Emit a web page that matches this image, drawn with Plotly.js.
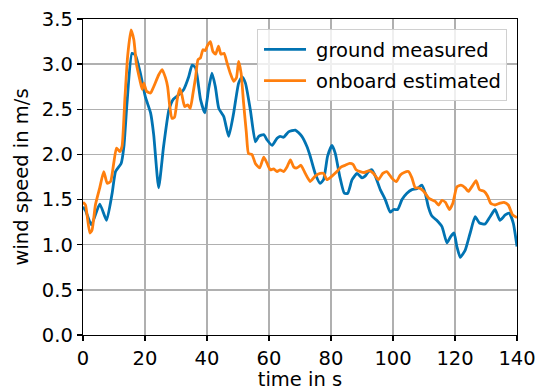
<!DOCTYPE html>
<html>
<head>
<meta charset="utf-8">
<script src="https://cdn.plot.ly/plotly-3.0.1.min.js"></script>
<style>html,body{margin:0;padding:0;background:#fff;}#chart{width:538px;height:391px;}</style>
</head>
<body>
<div id="chart"></div>
<script>
const groundTime = [0, 0.8, 2.7, 5.4, 7.6, 9.4, 10.5, 12.3, 13.2, 14.2, 15.8, 16.9, 18.5, 20.1, 21.8, 22.8, 24.4, 26.0, 27.7, 29.1, 30.9, 32.5, 34.1, 35.2, 36.3, 37.9, 39.3, 40.5, 41.6, 42.7, 43.8, 45.4, 47.0, 48.6, 50.2, 51.3, 52.4, 54.0, 55.6, 56.7, 58.3, 59.4, 61.0, 62.6, 63.6, 64.7, 66.3, 68.5, 70.6, 72.2, 73.3, 74.9, 76.5, 77.6, 78.9, 80.3, 81.4, 82.8, 84.3, 85.4, 86.8, 88.4, 90.0, 91.0, 92.1, 93.2, 94.3, 95.9, 97.5, 99.1, 100.2, 101.5, 102.9, 104.5, 106.1, 107.7, 109.3, 110.4, 111.4, 112.5, 114.1, 115.8, 117.4, 118.6, 119.7, 120.6, 121.7, 123.3, 124.9, 126.5, 127.9, 129.7, 131.3, 132.9, 134.5, 136.2, 137.5, 138.8, 140];
const groundSpeed = [1.42, 1.38, 1.22, 1.45, 1.27, 1.57, 1.81, 1.90, 2.09, 2.57, 3.12, 3.10, 2.90, 2.64, 2.46, 2.22, 1.63, 2.09, 2.49, 2.61, 2.66, 2.72, 2.86, 2.99, 2.96, 2.61, 2.46, 2.72, 2.90, 2.75, 2.51, 2.42, 2.20, 2.46, 2.79, 2.86, 2.79, 2.49, 2.14, 2.20, 2.22, 2.16, 2.10, 2.18, 2.20, 2.19, 2.25, 2.27, 2.20, 2.09, 1.98, 1.79, 1.68, 1.72, 1.98, 2.10, 2.01, 1.76, 1.57, 1.57, 1.72, 1.79, 1.74, 1.76, 1.81, 1.83, 1.76, 1.61, 1.50, 1.36, 1.39, 1.39, 1.50, 1.57, 1.61, 1.62, 1.66, 1.57, 1.42, 1.32, 1.27, 1.20, 1.02, 1.09, 1.13, 0.98, 0.86, 0.94, 1.13, 1.31, 1.24, 1.23, 1.31, 1.39, 1.27, 1.33, 1.35, 1.24, 0.98];

const onboardTime = [0, 0.8, 2.2, 2.9, 4.0, 5.4, 6.7, 7.8, 8.9, 9.9, 10.8, 11.9, 12.6, 13.5, 14.4, 15.5, 16.4, 17.2, 18.3, 19.1, 19.6, 20.5, 21.8, 22.8, 24.4, 25.5, 26.6, 27.3, 28.0, 28.7, 29.5, 30.4, 31.2, 31.9, 32.8, 33.8, 34.6, 35.5, 36.3, 37.1, 37.9, 38.7, 39.4, 40.2, 41.1, 41.9, 42.8, 43.7, 44.5, 45.5, 46.5, 47.5, 48.6, 49.5, 50.2, 51.0, 51.8, 52.7, 53.4, 54.5, 55.6, 57.0, 58.3, 59.4, 60.4, 61.5, 62.6, 63.6, 64.7, 65.8, 66.9, 68.0, 69.0, 70.3, 71.7, 73.3, 74.9, 76.5, 77.6, 78.7, 80.3, 81.9, 83.2, 84.6, 86.0, 87.1, 88.1, 89.4, 90.7, 92.4, 93.7, 95.3, 96.7, 98.0, 99.6, 101.1, 102.3, 103.6, 105.0, 106.1, 107.2, 108.3, 109.3, 110.4, 111.4, 112.3, 113.6, 114.7, 115.8, 116.9, 118.2, 119.3, 120.6, 121.9, 123.3, 124.3, 125.4, 126.8, 127.9, 129.4, 130.5, 131.5, 132.9, 134.5, 135.8, 137.2, 138.6, 140];
const onboardSpeed = [1.47, 1.44, 1.13, 1.16, 1.44, 1.63, 1.81, 1.68, 1.70, 1.90, 2.07, 2.03, 2.09, 2.61, 3.09, 3.38, 3.27, 3.01, 2.83, 2.72, 2.79, 2.70, 2.68, 2.75, 2.88, 2.94, 2.85, 2.75, 2.53, 2.40, 2.41, 2.61, 2.73, 2.66, 2.53, 2.55, 2.51, 2.68, 2.85, 3.05, 3.07, 3.16, 3.15, 3.21, 3.25, 3.14, 3.11, 3.20, 3.11, 3.12, 3.01, 2.90, 2.81, 2.85, 3.03, 2.90, 2.57, 2.24, 2.01, 2.00, 1.90, 1.85, 1.97, 1.90, 1.83, 1.84, 1.81, 1.83, 1.81, 1.86, 1.94, 1.86, 1.85, 1.88, 1.79, 1.70, 1.76, 1.79, 1.79, 1.72, 1.76, 1.81, 1.86, 1.88, 1.90, 1.89, 1.83, 1.81, 1.80, 1.82, 1.79, 1.72, 1.79, 1.81, 1.74, 1.70, 1.77, 1.80, 1.81, 1.74, 1.63, 1.63, 1.61, 1.57, 1.52, 1.50, 1.48, 1.44, 1.49, 1.47, 1.39, 1.46, 1.64, 1.66, 1.63, 1.59, 1.64, 1.71, 1.61, 1.59, 1.54, 1.46, 1.44, 1.46, 1.47, 1.44, 1.33, 1.30];

const seriesNames = ['ground measured', 'onboard estimated'];
const xTicks = [0, 20, 40, 60, 80, 100, 120, 140];
const yTicks = [0, 0.5, 1.0, 1.5, 2.0, 2.5, 3.0, 3.5];

const font = {family: 'DejaVu Sans', size: 19.5, color: '#000'};

const traces = [
  {x: groundTime, y: groundSpeed, name: seriesNames[0], type: 'scatter', mode: 'lines',
   legendgroup: 'a', line: {color: '#0173b2', width: 2.8, shape: 'spline', smoothing: 0.5}},
  {x: onboardTime, y: onboardSpeed, name: seriesNames[1], type: 'scatter', mode: 'lines',
   legendgroup: 'b', line: {color: '#ff7f0e', width: 2.8, shape: 'spline', smoothing: 0.5}}
];

const axisCommon = {
  showline: true, mirror: true, linecolor: '#000', linewidth: 1.3,
  ticks: 'outside', ticklen: 5, tickwidth: 1.3, tickcolor: '#000',
  showgrid: true, gridcolor: '#b0b0b0', gridwidth: 1.3,
  zeroline: false, tickfont: font
};

const layout = {
  width: 538, height: 391,
  margin: {l: 83, r: 21, t: 19, b: 56},
  paper_bgcolor: '#fff', plot_bgcolor: '#fff',
  font: font,
  showlegend: true,
  legend: {
    x: 0.977, xanchor: 'right', y: 0.968, yanchor: 'top',
    bgcolor: 'rgba(255,255,255,0.8)', bordercolor: '#d0d0d0', borderwidth: 1,
    font: font, tracegroupgap: 3, itemwidth: 48
  },
  xaxis: Object.assign({}, axisCommon, {
    range: [0, 140], tickvals: xTicks, ticktext: xTicks.map(String),
    title: {text: 'time in s', font: font, standoff: 12}
  }),
  yaxis: Object.assign({}, axisCommon, {
    range: [0, 3.5], tickvals: yTicks, ticktext: yTicks.map(v => v.toFixed(1)),
    title: {text: 'wind speed in m/s', font: font, standoff: 8}
  })
};

Plotly.newPlot('chart', traces, layout, {staticPlot: true, displayModeBar: false}).then(function (gd) {
  // lengthen the legend line samples to match the reference
  gd.querySelectorAll('.legend .legendlines path').forEach(function (p) {
    p.setAttribute('d', 'M6,0h42');
  });
});
</script>
</body>
</html>
